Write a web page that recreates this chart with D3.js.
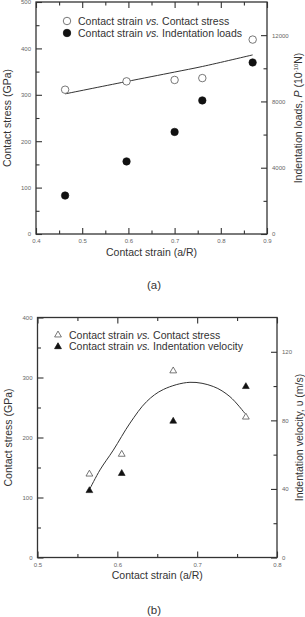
<!DOCTYPE html>
<html>
<head>
<meta charset="utf-8">
<script src="https://cdn.jsdelivr.net/npm/d3@7"></script>
<style>
  body { margin: 0; background: #fff; }
  svg { display: block; font-family: "Liberation Sans", Arial, sans-serif; }
  .tick text { fill: #666; font-size: 6px; }
  .tick line { stroke: #333; stroke-width: 1.1; }
  .domain { display: none; }
</style>
</head>
<body>
<svg id="chart" width="305" height="617"></svg>
<script>
// ---- panel (a) data ----
let strainA = [0.463, 0.596, 0.700, 0.760, 0.869];
let stressA = [311, 329, 332, 336, 419];
let loadsA = [2320, 4380, 6160, 8060, 10350];
let fitStrainA = [0.463, 0.593, 0.700, 0.760, 0.869];
let fitStressA = [302, 328, 349, 361, 386];
let xTicksA = [0.4, 0.5, 0.6, 0.7, 0.8, 0.9];
let yTicksA = [0, 100, 200, 300, 400, 500];
let y2TicksA = [0, 4000, 8000, 12000];

// ---- panel (b) data ----
let strainB = [0.565, 0.6055, 0.670, 0.761];
let stressB = [139, 172, 311, 234];
let velocityB = [39, 49, 79.5, 99.7];
let fitStrainB = [0.5658, 0.5783, 0.595, 0.6159, 0.6368, 0.6576, 0.691, 0.7202, 0.7411, 0.7599];
let fitStressB = [115, 146, 179, 224, 260, 280, 292, 285, 268, 240];
let xTicksB = [0.5, 0.6, 0.7, 0.8];
let yTicksB = [0, 100, 200, 300, 400];
let y2TicksB = [0, 40, 80, 120];

let svg = d3.select("#chart");

function drawPanel(p) {
  let g = svg.append("g");
  let x = d3.scaleLinear().domain(p.xDomain).range([p.left, p.right]);
  let y = d3.scaleLinear().domain(p.yDomain).range([p.bottom, p.top]);
  let y2 = d3.scaleLinear().domain(p.y2Domain).range([p.bottom, p.top]);
  let w = p.right - p.left;
  let h = p.bottom - p.top;

  // minor ticks
  g.append("g").attr("transform", "translate(0," + p.bottom + ")")
    .call(d3.axisBottom(x).tickValues(p.xMinor).tickSize(-3.5).tickFormat(""));
  g.append("g").attr("transform", "translate(0," + p.top + ")")
    .call(d3.axisTop(x).tickValues(p.xMinor).tickSize(-3.5).tickFormat(""));
  g.append("g").attr("transform", "translate(" + p.left + ",0)")
    .call(d3.axisLeft(y).tickValues(p.yMinor).tickSize(-3.5).tickFormat(""));
  g.append("g").attr("transform", "translate(" + p.right + ",0)")
    .call(d3.axisRight(y2).tickValues(p.y2Minor).tickSize(-3.5).tickFormat(""));

  // major ticks
  g.append("g").attr("transform", "translate(0," + p.bottom + ")")
    .call(d3.axisBottom(x).tickValues(p.xTicks).tickSizeInner(-6).tickSizeOuter(0).tickPadding(5).tickFormat(d3.format(".1f")));
  g.append("g").attr("transform", "translate(0," + p.top + ")")
    .call(d3.axisTop(x).tickValues(p.xTicks).tickSizeInner(-6).tickSizeOuter(0).tickFormat(""));
  g.append("g").attr("transform", "translate(" + p.left + ",0)")
    .call(d3.axisLeft(y).tickValues(p.yTicks).tickSizeInner(-6).tickSizeOuter(0).tickPadding(5).tickFormat(d3.format("d")));
  g.append("g").attr("transform", "translate(" + p.right + ",0)")
    .call(d3.axisRight(y2).tickValues(p.y2Ticks).tickSizeInner(-6).tickSizeOuter(0).tickPadding(5).tickFormat(d3.format("d")));

  // frame
  g.append("rect")
    .attr("x", p.left).attr("y", p.top)
    .attr("width", w).attr("height", h)
    .style("fill", "none").style("stroke", "#333").style("stroke-width", 1.3);

  // fit line
  let line = d3.line()
    .x(function(d) { return x(d[0]); })
    .y(function(d) { return y(d[1]); })
    .curve(d3.curveCatmullRom);
  g.append("path")
    .attr("d", line(d3.zip(p.fitX, p.fitY)))
    .style("fill", "none").style("stroke", "#333").style("stroke-width", 1);

  // markers
  let sym = d3.symbol().type(p.symbol).size(p.symbolSize);
  g.selectAll(".open").data(d3.zip(p.xs, p.ys)).enter()
    .append("path")
    .attr("d", sym)
    .attr("transform", function(d) { return "translate(" + x(d[0]) + "," + y(d[1]) + ")"; })
    .style("fill", "#fff").style("stroke", "#555").style("stroke-width", 0.8);
  g.selectAll(".filled").data(d3.zip(p.xs, p.y2s)).enter()
    .append("path")
    .attr("d", sym)
    .attr("transform", function(d) { return "translate(" + x(d[0]) + "," + y2(d[1]) + ")"; })
    .style("fill", "#111").style("stroke", "#111").style("stroke-width", 0.6);

  // legend
  let leg = [[p.symbol, "#fff", "#555", p.legend1], [p.symbol, "#111", "#111", p.legend2]];
  leg.forEach(function(l, i) {
    let ly = p.legendY + i * p.legendGap;
    g.append("path").attr("d", sym)
      .attr("transform", "translate(" + p.legendX + "," + ly + ")")
      .style("fill", l[1]).style("stroke", l[2]).style("stroke-width", 0.8);
    let t = g.append("text")
      .attr("x", p.legendX + 11).attr("y", ly + 3.7)
      .style("font-size", "10.5px").style("fill", "#333");
    t.append("tspan").text("Contact strain ");
    t.append("tspan").style("font-style", "italic").text("vs.");
    t.append("tspan").text(" " + l[3]);
  });

  // axis titles
  g.append("text")
    .attr("transform", "translate(" + p.yTitleX + "," + (p.top + h / 2) + ") rotate(-90)")
    .attr("text-anchor", "middle")
    .style("font-size", "10.5px").style("fill", "#333")
    .text("Contact stress (GPa)");

  let t2 = g.append("text")
    .attr("transform", "translate(" + p.y2TitleX + "," + (p.top + h / 2) + ") rotate(-90)")
    .attr("text-anchor", "middle")
    .style("font-size", "10.5px").style("fill", "#333");
  p.y2Title(t2);

  g.append("text")
    .attr("x", (p.left + p.right) / 2).attr("y", p.bottom + 21.5)
    .attr("text-anchor", "middle")
    .style("font-size", "10.5px").style("fill", "#333")
    .text("Contact strain (a/R)");

  g.append("text")
    .attr("x", 154).attr("y", p.panelY)
    .attr("text-anchor", "middle")
    .style("font-size", "11.5px").style("fill", "#333")
    .text(p.panel);
}

drawPanel({
  left: 36, right: 267, top: 2, bottom: 234,
  xDomain: [0.4, 0.9], yDomain: [0, 500], y2Domain: [0, 14000],
  xTicks: xTicksA, yTicks: yTicksA, y2Ticks: y2TicksA,
  xMinor: [0.45, 0.55, 0.65, 0.75, 0.85],
  yMinor: [50, 150, 250, 350, 450],
  y2Minor: [2000, 6000, 10000],
  xs: strainA, ys: stressA, y2s: loadsA,
  fitX: fitStrainA, fitY: fitStressA,
  symbol: d3.symbolCircle, symbolSize: 44,
  legendX: 67, legendY: 21, legendGap: 12,
  legend1: "Contact stress", legend2: "Indentation loads",
  yTitleX: 11, y2TitleX: 302,
  y2Title: function(t) {
    t.append("tspan").text("Indentation loads, ");
    t.append("tspan").style("font-style", "italic").text("P");
    t.append("tspan").text(" (10");
    t.append("tspan").attr("dy", -4).style("font-size", "6px").text("-10");
    t.append("tspan").attr("dy", 4).text("N)");
  },
  panel: "(a)", panelY: 289
});

drawPanel({
  left: 37.5, right: 277, top: 317.5, bottom: 557.5,
  xDomain: [0.5, 0.8], yDomain: [0, 400], y2Domain: [0, 140],
  xTicks: xTicksB, yTicks: yTicksB, y2Ticks: y2TicksB,
  xMinor: [0.55, 0.65, 0.75],
  yMinor: [50, 150, 250, 350],
  y2Minor: [20, 60, 100],
  xs: strainB, ys: stressB, y2s: velocityB,
  fitX: fitStrainB, fitY: fitStressB,
  symbol: d3.symbolTriangle, symbolSize: 20,
  legendX: 58, legendY: 335, legendGap: 11.7,
  legend1: "Contact stress", legend2: "Indentation velocity",
  yTitleX: 12, y2TitleX: 303,
  y2Title: function(t) {
    t.text("Indentation velocity, \u03C5 (m/s)");
  },
  panel: "(b)", panelY: 614
});
</script>
</body>
</html>
